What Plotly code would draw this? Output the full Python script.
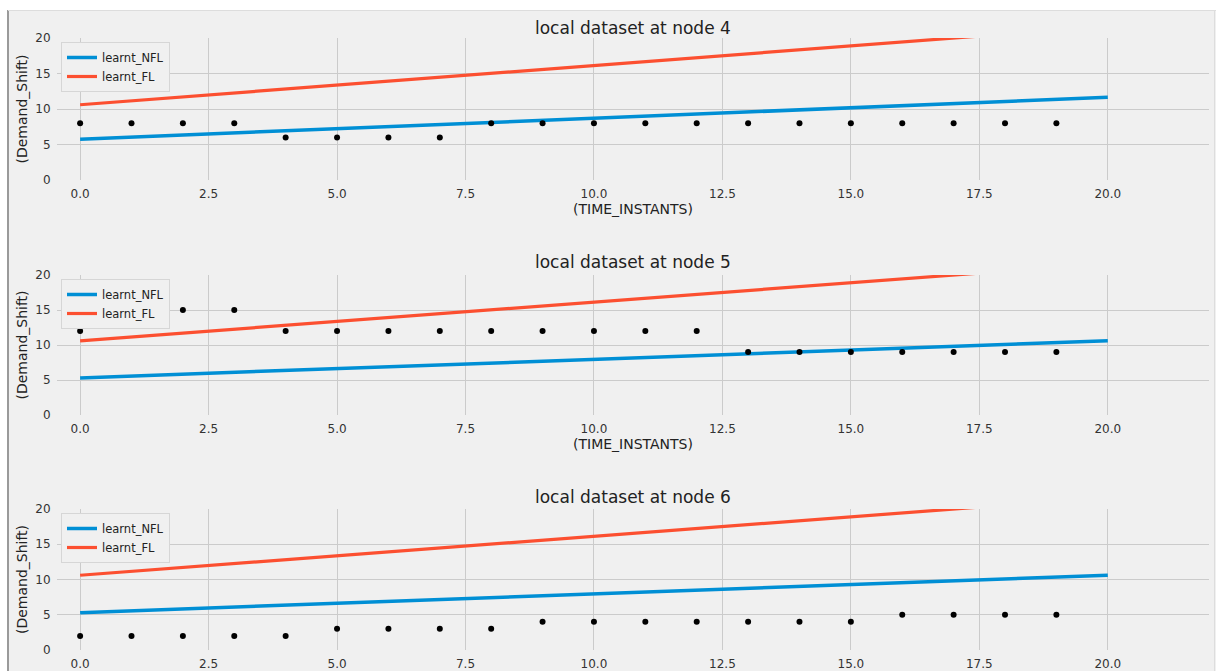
import plotly.graph_objects as go

# Observed demand shift per time instant at each node
time_instants = list(range(20))
node4_demand = [8, 8, 8, 8, 6, 6, 6, 6, 8, 8, 8, 8, 8, 8, 8, 8, 8, 8, 8, 8]
node5_demand = [12, 15, 15, 15, 12, 12, 12, 12, 12, 12, 12, 12, 12, 9, 9, 9, 9, 9, 9, 9]
node6_demand = [2, 2, 2, 2, 2, 3, 3, 3, 3, 4, 4, 4, 4, 4, 4, 4, 5, 5, 5, 5]

# Fitted regression lines evaluated at the ends of the time span
line_x = [0, 20]
node4_nfl = [5.75, 11.65]
node5_nfl = [5.3, 10.6]
node6_nfl = [5.3, 10.6]
global_fl = [10.6, 21.65]

node_names = ["node 4", "node 5", "node 6"]
demands = [node4_demand, node5_demand, node6_demand]
nfl_lines = [node4_nfl, node5_nfl, node6_nfl]

W, H = 1216, 671
BG = "#f0f0f0"
GRID = "#cbcbcb"
BLUE = "#008fd5"
RED = "#fc4f30"
FONT = "DejaVu Sans"

# Pixel extents of each panel (top, bottom) and shared left/right
x_left, x_right = 57, 1209
panels_px = [(38, 180), (275, 415), (509, 650)]
title_px = [28, 262, 497]
has_xlabel = [True, True, False]

fig = go.Figure()
layout = dict(
    width=W, height=H,
    margin=dict(l=0, r=0, t=0, b=0, autoexpand=False),
    paper_bgcolor=BG, plot_bgcolor=BG,
    font=dict(family=FONT, color="#333333", size=12),
    showlegend=True,
)
annotations = []

for i in range(3):
    k = "" if i == 0 else str(i + 1)
    xa, ya = "x" + k, "y" + k
    leg = "legend" + k
    fig.add_trace(go.Scatter(
        x=line_x, y=nfl_lines[i], mode="lines", name="learnt_NFL",
        line=dict(color=BLUE, width=3.5), xaxis=xa, yaxis=ya, legend=leg))
    fig.add_trace(go.Scatter(
        x=line_x, y=global_fl, mode="lines", name="learnt_FL",
        line=dict(color=RED, width=3.2), xaxis=xa, yaxis=ya, legend=leg))
    fig.add_trace(go.Scatter(
        x=time_instants, y=demands[i], mode="markers", showlegend=False,
        marker=dict(color="black", size=6), xaxis=xa, yaxis=ya, legend=leg))

    top, bot = panels_px[i]
    ydom = [1 - bot / H, 1 - top / H]
    layout["xaxis" + k] = dict(
        domain=[x_left / W, x_right / W], range=[-0.45, 21.97],
        anchor=ya, tickvals=[0, 2.5, 5, 7.5, 10, 12.5, 15, 17.5, 20],
        ticktext=["0.0", "2.5", "5.0", "7.5", "10.0", "12.5", "15.0", "17.5", "20.0"],
        showgrid=True, gridcolor=GRID, gridwidth=1, zeroline=False,
        showline=False, ticks="outside", ticklen=3, tickcolor=BG,
        tickfont=dict(size=12, color="#333333"), automargin=False,
    )
    if has_xlabel[i]:
        layout["xaxis" + k]["title"] = dict(
            text="(TIME_INSTANTS)", font=dict(size=14, color="#222222"), standoff=1)
    layout["yaxis" + k] = dict(
        domain=ydom, range=[0, 20], anchor=xa, tickvals=[0, 5, 10, 15, 20],
        showgrid=True, gridcolor=GRID, gridwidth=1, zeroline=False,
        showline=False, ticks="outside", ticklen=3, tickcolor=BG,
        tickfont=dict(size=12, color="#333333"), automargin=False,
        title=dict(text="(Demand_Shift)", font=dict(size=14, color="#222222"), standoff=4),
    )
    layout[leg] = dict(
        x=61 / W, y=1 - (top + 4) / H, xanchor="left", yanchor="top",
        bgcolor=BG, bordercolor="#d6d6d6", borderwidth=1,
        font=dict(size=11.5, color="#222222"), itemwidth=30,
        tracegroupgap=0,
    )
    annotations.append(dict(
        text="local dataset at " + node_names[i], xref="paper", yref="paper",
        x=(x_left + x_right) / 2 / W, y=1 - title_px[i] / H,
        xanchor="center", yanchor="middle", showarrow=False,
        font=dict(size=17, color="#222222")))

layout["annotations"] = annotations
layout["shapes"] = [
    dict(type="rect", xref="paper", yref="paper", x0=0, x1=1, y0=1 - 10 / H, y1=1,
         fillcolor="white", line=dict(width=0), layer="above"),
    dict(type="rect", xref="paper", yref="paper", x0=0, x1=7 / W, y0=0, y1=1,
         fillcolor="white", line=dict(width=0), layer="above"),
    dict(type="line", xref="paper", yref="paper", x0=8 / W, x1=8 / W, y0=0, y1=1 - 10 / H,
         line=dict(color="#9a9a9a", width=2), layer="above"),
    dict(type="line", xref="paper", yref="paper", x0=8 / W, x1=1, y0=1 - 10.5 / H, y1=1 - 10.5 / H,
         line=dict(color="#dddddd", width=1), layer="above"),
    dict(type="line", xref="paper", yref="paper", x0=1 - 1.5 / W, x1=1 - 1.5 / W, y0=0, y1=1 - 10 / H,
         line=dict(color="#dddddd", width=1), layer="above"),
]
fig.update_layout(**layout)
fig.write_html("out.html")
